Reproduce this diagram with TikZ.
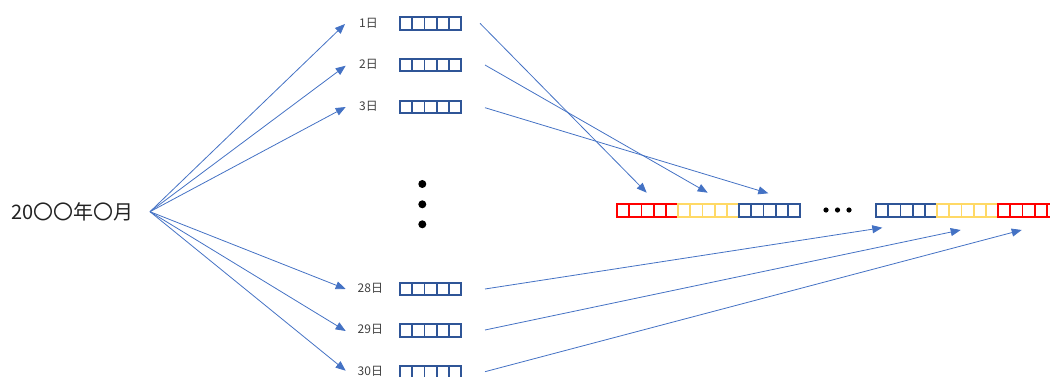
\documentclass[tikz,border=0pt]{standalone}
\usepackage{fontspec}
\setmainfont{Noto Sans CJK JP}
\usetikzlibrary{arrows.meta}
\definecolor{arr}{HTML}{4472C4}
\definecolor{bblue}{HTML}{2F5597}
\definecolor{bred}{HTML}{FF0000}
\definecolor{byel}{HTML}{FFD966}
\definecolor{txt}{HTML}{404040}
\definecolor{ttl}{HTML}{222222}
\newcommand\cellbar[4]{%
  \foreach \i in {0,...,4} {\draw[cellline, draw=#4] ({#2+\i*12.2},{#3-6.25}) rectangle ++(12.2,12.5);}
  \node[inner sep=0, minimum width=61pt, minimum height=12.5pt, anchor=west] (#1) at (#2,#3) {};}
\begin{document}
\begin{tikzpicture}[x=1pt,y=-1pt,
  conn/.style={draw=arr, line width=0.8pt, -{Triangle[length=10pt,width=8pt]}},
  cellline/.style={line width=1.8pt},
  daylabel/.style={anchor=west, inner sep=0, text=txt, font=\fontsize{12}{14}\selectfont},
  bigdot/.style={fill=black, draw=none}]
\useasboundingbox (0,0) rectangle (1050,377);
% title
\node[inner sep=0, text=ttl, font=\fontsize{20}{24}\selectfont] (title) at (72.5,212) {20〇〇年〇月};
\coordinate (src) at (150,211.7);
% day labels
\node[daylabel] (l1) at (359,23) {1日};
\node[daylabel] (l2) at (359,64.5) {2日};
\node[daylabel] (l3) at (359,106) {3日};
\node[daylabel] (l28) at (357.5,288) {28日};
\node[daylabel] (l29) at (357.5,329.5) {29日};
\node[daylabel] (l30) at (357.5,371) {30日};
% day bars
\cellbar{d1}{400}{23.5}{bblue}
\cellbar{d2}{400}{65}{bblue}
\cellbar{d3}{400}{107}{bblue}
\cellbar{d28}{400}{289}{bblue}
\cellbar{d29}{400}{330.5}{bblue}
\cellbar{d30}{400}{372}{bblue}
% vertical dots
\fill[bigdot] (422.3,184) circle (4);
\fill[bigdot] (422.3,204.3) circle (4);
\fill[bigdot] (422.3,224.3) circle (4);
% long bar
\cellbar{m1}{617}{210.5}{bred}
\cellbar{m2}{678}{210.5}{byel}
\cellbar{m3}{739}{210.5}{bblue}
\fill[bigdot] (826,210) circle (2.6);
\fill[bigdot] (837.5,210) circle (2.6);
\fill[bigdot] (849,210) circle (2.6);
\cellbar{m4}{876}{210.5}{bblue}
\cellbar{m5}{937}{210.5}{byel}
\cellbar{m6}{998}{210.5}{bred}
% arrow end points
\coordinate (e1) at (345,24);
\coordinate (e2) at (345.7,65.7);
\coordinate (e3) at (345.7,107);
\coordinate (e28) at (345.7,289);
\coordinate (e29) at (345.7,331);
\coordinate (e30) at (345.7,370.7);
\coordinate (s1) at (480,23.3);
\coordinate (s2) at (485,65);
\coordinate (s3) at (485,107.7);
\coordinate (s28) at (485,289);
\coordinate (s29) at (485,330);
\coordinate (s30) at (485,371.7);
\coordinate (t1) at (646.7,192.7);
\coordinate (t2) at (707.7,192.7);
\coordinate (t3) at (768.3,193.3);
\coordinate (t28) at (882.3,227.7);
\coordinate (t29) at (960.7,230);
\coordinate (t30) at (1021.7,230);
% arrows
\foreach \k in {1,2,3,28,29,30} {
  \draw[conn] (src) -- (e\k);
  \draw[conn] (s\k) -- (t\k);
}
\end{tikzpicture}
\end{document}
